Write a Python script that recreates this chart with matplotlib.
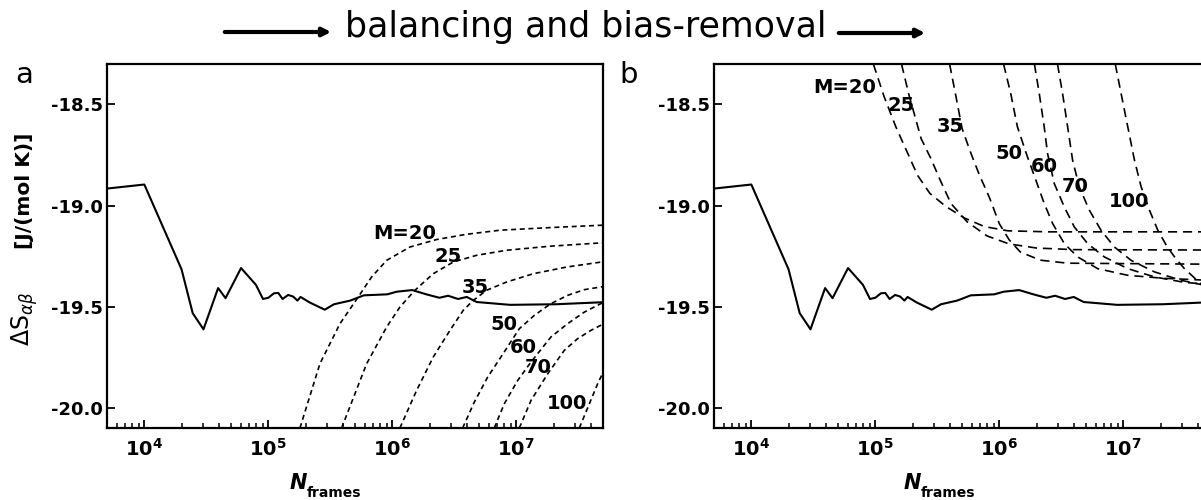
import numpy as np
import matplotlib.pyplot as plt
from matplotlib.patches import FancyArrowPatch
from matplotlib.ticker import FixedLocator, LogLocator, NullFormatter

plt.rcParams['font.family'] = 'DejaVu Sans'
plt.rcParams['mathtext.fontset'] = 'dejavusans'

W, H = 1201, 500

# running estimate of the entropy (same trajectory in both panels), x as log10(N)
solid_logn = [3.699, 4.0, 4.30, 4.39, 4.477, 4.595, 4.655, 4.78, 4.90, 4.957, 5.0, 5.045,
              5.08, 5.115, 5.16, 5.20, 5.235, 5.26, 5.336, 5.455, 5.53, 5.66, 5.77, 5.96,
              6.035, 6.16, 6.28, 6.38, 6.45, 6.53, 6.60, 6.68, 6.95, 7.32, 7.70]
solid_ds = [-18.916, -18.896, -19.315, -19.532, -19.612, -19.408, -19.458, -19.309, -19.392,
            -19.462, -19.456, -19.434, -19.432, -19.462, -19.442, -19.450, -19.470, -19.452,
            -19.480, -19.515, -19.488, -19.470, -19.444, -19.439, -19.426, -19.418, -19.440,
            -19.456, -19.446, -19.462, -19.452, -19.477, -19.491, -19.488, -19.478]

m_values = [20, 25, 35, 50, 60, 70, 100]

# panel a: biased estimates for each M
a_logn = [
    [5.255, 5.416, 5.578, 5.725, 5.833, 5.954, 6.142, 6.357, 6.599, 6.868, 7.271, 7.70],
    [5.591, 5.793, 5.954, 6.061, 6.182, 6.33, 6.492, 6.68, 6.922, 7.271, 7.70],
    [6.061, 6.196, 6.33, 6.465, 6.572, 6.653, 6.76, 6.922, 7.137, 7.406, 7.70],
    [6.567, 6.661, 6.769, 6.876, 7.024, 7.145, 7.279, 7.414, 7.548, 7.707],
    [6.822, 6.903, 7.011, 7.118, 7.279, 7.414, 7.548, 7.707],
    [7.024, 7.118, 7.253, 7.387, 7.495, 7.602, 7.707],
    [7.508, 7.589, 7.656, 7.707],
]
a_ds = [
    [-20.10, -19.782, -19.584, -19.452, -19.353, -19.271, -19.205, -19.168, -19.142, -19.122, -19.109, -19.097],
    [-20.10, -19.782, -19.601, -19.502, -19.419, -19.337, -19.279, -19.246, -19.221, -19.201, -19.184],
    [-20.10, -19.914, -19.749, -19.617, -19.518, -19.469, -19.419, -19.378, -19.337, -19.304, -19.278],
    [-20.10, -19.972, -19.848, -19.749, -19.609, -19.543, -19.485, -19.444, -19.416, -19.400],
    [-20.10, -19.980, -19.865, -19.774, -19.650, -19.584, -19.527, -19.477],
    [-20.10, -19.964, -19.832, -19.716, -19.658, -19.617, -19.584],
    [-20.10, -19.980, -19.881, -19.815],
]
a_label_pos = [(6.102, -19.139), (6.451, -19.251), (6.667, -19.403), (6.901, -19.588),
               (7.056, -19.700), (7.177, -19.799), (7.406, -19.980)]

# panel b: balanced and bias-removed estimates
b_logn = [
    [4.984, 5.07, 5.165, 5.26, 5.34, 5.44, 5.57, 5.72, 5.88, 6.07, 6.40, 7.70],
    [5.211, 5.27, 5.32, 5.37, 5.45, 5.52, 5.61, 5.74, 5.90, 6.08, 6.30, 6.60, 7.70],
    [5.599, 5.65, 5.70, 5.77, 5.84, 5.92, 6.00, 6.08, 6.17, 6.33, 6.55, 7.70],
    [6.034, 6.092, 6.146, 6.222, 6.295, 6.362, 6.43, 6.524, 6.632, 6.793, 7.036, 7.332, 7.70],
    [6.283, 6.322, 6.362, 6.389, 6.443, 6.524, 6.605, 6.712, 6.847, 7.036, 7.251, 7.494, 7.70],
    [6.469, 6.51, 6.551, 6.591, 6.645, 6.726, 6.82, 6.928, 7.063, 7.251, 7.467, 7.70],
    [6.935, 6.982, 7.036, 7.09, 7.144, 7.211, 7.278, 7.35, 7.42, 7.49, 7.56, 7.63, 7.70],
]
b_ds = [
    [-18.30, -18.46, -18.61, -18.74, -18.85, -18.94, -19.005, -19.062, -19.104, -19.125, -19.13, -19.13],
    [-18.30, -18.45, -18.56, -18.67, -18.77, -18.87, -18.99, -19.08, -19.15, -19.19, -19.21, -19.218, -19.22],
    [-18.30, -18.46, -18.62, -18.74, -18.85, -18.96, -19.09, -19.17, -19.23, -19.27, -19.285, -19.29],
    [-18.30, -18.446, -18.611, -18.751, -18.875, -18.99, -19.089, -19.188, -19.254, -19.312, -19.345, -19.36, -19.37],
    [-18.30, -18.446, -18.611, -18.743, -18.891, -19.007, -19.106, -19.188, -19.254, -19.312, -19.353, -19.38, -19.39],
    [-18.30, -18.446, -18.611, -18.776, -18.908, -19.023, -19.122, -19.205, -19.271, -19.328, -19.37, -19.40],
    [-18.30, -18.446, -18.611, -18.776, -18.908, -19.023, -19.122, -19.20, -19.26, -19.31, -19.35, -19.39, -19.42],
]
b_label_pos = [(4.752, -18.416), (5.205, -18.503), (5.606, -18.607), (6.081, -18.742),
               (6.36, -18.808), (6.609, -18.906), (7.043, -18.98)]

x_ticks = [1e4, 1e5, 1e6, 1e7]
x_ticklabels = [r'$\mathbf{10^{4}}$', r'$\mathbf{10^{5}}$', r'$\mathbf{10^{6}}$', r'$\mathbf{10^{7}}$']
y_ticks = [-20.0, -19.5, -19.0, -18.5]
y_ticklabels = ['-20.0', '-19.5', '-19.0', '-18.5']


def px(x, y):
    return x / W, 1 - y / H


fig = plt.figure(figsize=(W / 100, H / 100), dpi=100)
ax_a = fig.add_axes([107 / W, 72 / H, 496 / W, 364 / H])
ax_b = fig.add_axes([714 / W, 72 / H, 496 / W, 364 / H])

for ax, logn, ds, lpos, dash in [(ax_a, a_logn, a_ds, a_label_pos, (3, 2.2)),
                                 (ax_b, b_logn, b_ds, b_label_pos, (5.5, 3.5))]:
    ax.plot(10 ** np.array(solid_logn), solid_ds, color='black', lw=1.5)
    for m, xs, ys, (lx, ly) in zip(m_values, logn, ds, lpos):
        ax.plot(10 ** np.array(xs), ys, color='black', lw=1.2, linestyle=(0, dash))
        txt = f'M={m}' if m == 20 else str(m)
        ax.text(10 ** lx, ly, txt, ha='center', va='center', fontsize=14, fontweight='bold')

    ax.set_xscale('log')
    ax.set_xlim(5e3, 5e7)
    ax.set_ylim(-20.1, -18.3)
    ax.xaxis.set_major_locator(FixedLocator(x_ticks))
    ax.set_xticklabels(x_ticklabels)
    ax.xaxis.set_minor_locator(LogLocator(base=10, subs=np.arange(2, 10)))
    ax.xaxis.set_minor_formatter(NullFormatter())
    ax.set_yticks(y_ticks)
    ax.set_yticklabels(y_ticklabels, fontweight='bold')
    ax.tick_params(axis='x', which='major', direction='in', length=6, width=1.3,
                   labelsize=14, pad=7, top=False)
    ax.tick_params(axis='x', which='minor', direction='in', length=3.5, width=1.1, top=False)
    ax.tick_params(axis='y', which='major', direction='in', length=6, width=1.3,
                   labelsize=13, pad=3, right=False)
    for sp in ax.spines.values():
        sp.set_linewidth(1.6)

# title with arrows
fig.text(*px(586, 37), 'balancing and bias-removal', ha='center', va='baseline', fontsize=25)
for x0, x1, y in [(222, 334, 32), (836, 928, 33)]:
    arr = FancyArrowPatch(px(x0, y), px(x1, y), transform=fig.transFigure,
                          arrowstyle='-|>', mutation_scale=12, lw=3, color='black')
    fig.add_artist(arr)

# panel letters
fig.text(*px(15, 83), 'a', fontsize=21, va='baseline')
fig.text(*px(619, 83), 'b', fontsize=21, va='baseline')

# y axis label
fig.text(*px(25, 319), r'ΔS$_{\mathit{αβ}}$', rotation=90, ha='center', va='center', fontsize=17)
fig.text(*px(24, 191), '[J/(mol K)]', rotation=90, ha='center', va='center',
         fontsize=14.5, fontweight='bold')

# x axis labels
for xn in [290, 904]:
    fig.text(*px(xn, 489), 'N', fontsize=15, fontweight='bold', fontstyle='italic', va='baseline')
    fig.text(*px(xn + 17, 497), 'frames', fontsize=10, fontweight='bold', va='baseline')

fig.savefig('out.png', dpi=100)
